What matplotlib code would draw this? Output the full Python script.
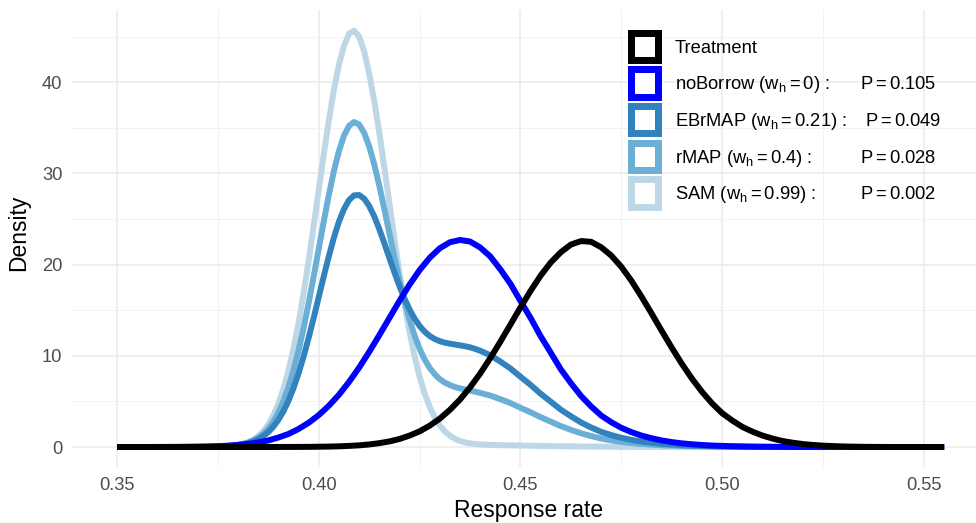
import matplotlib
matplotlib.use("Agg")
import matplotlib.pyplot as plt
from matplotlib.patches import Rectangle

plt.rcParams["font.family"] = ["Liberation Sans", "DejaVu Sans"]
plt.rcParams["mathtext.fontset"] = "custom"
plt.rcParams["mathtext.rm"] = "Liberation Sans"
plt.rcParams["mathtext.it"] = "Liberation Sans:italic"
plt.rcParams["mathtext.bf"] = "Liberation Sans:bold"

# response-rate grid for the two wide curves (Treatment, noBorrow)
x_wide = [0.35, 0.3525, 0.355, 0.3575, 0.36, 0.3625, 0.365, 0.3675, 0.37, 0.3725,
          0.375, 0.3775, 0.38, 0.3825, 0.385, 0.3875, 0.39, 0.3925, 0.395, 0.3975,
          0.40, 0.4025, 0.405, 0.4075, 0.41, 0.4125, 0.415, 0.4175, 0.42, 0.4225,
          0.425, 0.4275, 0.43, 0.4325, 0.435, 0.4375, 0.44, 0.4425, 0.445, 0.4475,
          0.45, 0.4525, 0.455, 0.4575, 0.46, 0.4625, 0.465, 0.4675, 0.47, 0.4725,
          0.475, 0.4775, 0.48, 0.4825, 0.485, 0.4875, 0.49, 0.4925, 0.495, 0.4975,
          0.50, 0.5025, 0.505, 0.5075, 0.51, 0.5125, 0.515, 0.5175, 0.52, 0.5225,
          0.525, 0.5275, 0.53, 0.5325, 0.535, 0.5375, 0.54, 0.5425, 0.545, 0.5475,
          0.55, 0.5525, 0.555]
treatment = [0, 0, 0, 0, 0, 0, 0, 0, 0, 0,
             0, 0, 0, 0.0005, 0.001, 0.002, 0.003, 0.006, 0.01, 0.017,
             0.03, 0.046, 0.075, 0.12, 0.18, 0.28, 0.42, 0.61, 0.88, 1.25,
             1.72, 2.34, 3.11, 4.07, 5.20, 6.54, 8.05, 9.74, 11.54, 13.42,
             15.31, 17.12, 18.8, 20.23, 21.36, 22.2, 22.58, 22.5, 21.9, 20.99,
             19.75, 18.22, 16.48, 14.63, 12.73, 10.88, 9.11, 7.49, 6.04, 4.77,
             3.70, 2.9, 2.2, 1.68, 1.25, 0.92, 0.65, 0.47, 0.32, 0.22,
             0.15, 0.1, 0.06, 0.04, 0.02, 0.012, 0.005, 0.002, 0, 0,
             0, 0, 0]
no_borrow = [0, 0, 0.001, 0.002, 0.004, 0.008, 0.013, 0.022, 0.037, 0.059,
             0.096, 0.147, 0.23, 0.343, 0.51, 0.72, 1.04, 1.43, 1.98, 2.66,
             3.50, 4.52, 5.73, 7.13, 8.70, 10.43, 12.26, 14.14, 16.02, 17.80,
             19.40, 20.75, 21.79, 22.45, 22.70, 22.53, 21.88, 20.9, 19.48, 17.9,
             16.0, 14.15, 12.14, 10.34, 8.51, 7.0, 5.6, 4.45, 3.45, 2.72,
             2.1, 1.63, 1.25, 0.96, 0.72, 0.54, 0.4, 0.3, 0.22, 0.16,
             0.12, 0.085, 0.06, 0.04, 0.03, 0.02, 0.01, 0.005, 0, 0,
             0, 0, 0, 0, 0, 0, 0, 0, 0, 0,
             0, 0, 0]

# finer grid around the narrow peaks (EBrMAP, rMAP, SAM)
x_peak = [0.35, 0.355, 0.36, 0.365, 0.37, 0.3725, 0.375, 0.3775,
          0.38, 0.38125, 0.3825, 0.38375, 0.385, 0.38625, 0.3875, 0.38875,
          0.39, 0.39125, 0.3925, 0.39375, 0.395, 0.39625, 0.3975, 0.39875,
          0.40, 0.40125, 0.4025, 0.40375, 0.405, 0.40625, 0.4075, 0.40875,
          0.41, 0.41125, 0.4125, 0.41375, 0.415, 0.41625, 0.4175, 0.41875,
          0.42, 0.42125, 0.4225, 0.42375, 0.425, 0.42625, 0.4275, 0.42875,
          0.43, 0.43125, 0.4325, 0.43375, 0.435, 0.43625, 0.4375, 0.43875,
          0.44, 0.4425, 0.445, 0.4475, 0.45, 0.4525, 0.455, 0.4575,
          0.46, 0.4625, 0.465, 0.4675, 0.47, 0.4725, 0.475, 0.4775,
          0.48, 0.485, 0.49, 0.495, 0.50, 0.505, 0.51, 0.515,
          0.52, 0.53, 0.54, 0.555]
ebrmap = [0, 0.0005, 0.002, 0.0064, 0.0191, 0.033, 0.061, 0.112,
          0.222, 0.312, 0.439, 0.617, 0.865, 1.198, 1.638, 2.229,
          2.981, 3.924, 5.074, 6.475, 8.088, 9.94, 11.98, 14.17,
          16.45, 18.73, 20.92, 22.95, 24.71, 26.09, 27.07, 27.59,
          27.63, 27.23, 26.43, 25.29, 23.90, 22.35, 20.74, 19.15,
          17.64, 16.27, 15.08, 14.08, 13.27, 12.64, 12.17, 11.84,
          11.60, 11.44, 11.33, 11.24, 11.15, 11.05, 10.93, 10.76,
          10.56, 10.06, 9.37, 8.61, 7.70, 6.81, 5.84, 4.97,
          4.09, 3.37, 2.69, 2.14, 1.66, 1.31, 1.01, 0.78,
          0.60, 0.35, 0.19, 0.11, 0.06, 0.03, 0.014, 0.005,
          0, 0, 0, 0]
rmap = [0, 0.0003, 0.001, 0.0036, 0.0119, 0.0223, 0.046, 0.098,
        0.218, 0.324, 0.478, 0.698, 1.011, 1.438, 2.014, 2.783,
        3.774, 5.024, 6.562, 8.425, 10.585, 13.06, 15.79, 18.71,
        21.74, 24.75, 27.63, 30.25, 32.45, 34.14, 35.21, 35.63,
        35.36, 34.46, 32.96, 30.99, 28.66, 26.09, 23.43, 20.81,
        18.29, 16.01, 13.97, 12.22, 10.77, 9.59, 8.67, 7.97,
        7.44, 7.06, 6.79, 6.58, 6.43, 6.30, 6.19, 6.07,
        5.93, 5.64, 5.25, 4.82, 4.30, 3.81, 3.27, 2.78,
        2.29, 1.88, 1.51, 1.20, 0.93, 0.73, 0.56, 0.44,
        0.34, 0.19, 0.11, 0.06, 0.03, 0.016, 0.008, 0.003,
        0, 0, 0, 0]
sam = [0, 0, 0, 0.0003, 0.003, 0.0093, 0.029, 0.081,
       0.214, 0.339, 0.525, 0.797, 1.188, 1.732, 2.472, 3.459,
       4.743, 6.368, 8.380, 10.808, 13.632, 16.873, 20.44, 24.26,
       28.20, 32.12, 35.81, 39.16, 41.92, 43.96, 45.3, 45.65,
       45.0, 43.4, 40.94, 37.95, 34.47, 30.65, 26.72, 22.83,
       19.10, 15.68, 12.61, 9.95, 7.71, 5.86, 4.39, 3.23,
       2.36, 1.71, 1.23, 0.90, 0.66, 0.507, 0.40, 0.33,
       0.28, 0.23, 0.20, 0.18, 0.16, 0.14, 0.12, 0.10,
       0.085, 0.07, 0.056, 0.045, 0.035, 0.027, 0.021, 0.016,
       0.0125, 0.007, 0.004, 0.002, 0.001, 0.0006, 0.0003, 0,
       0, 0, 0, 0]

# legend content
legend_names = ["Treatment", "noBorrow", "EBrMAP", "rMAP", "SAM"]
legend_weights = [None, "0", "0.21", "0.4", "0.99"]
legend_pvalues = [None, "0.105", "0.049", "0.028", "0.002"]
colors = ["#000000", "#0000FF", "#3182BD", "#6BAED6", "#BDD7E7"]

x_ticks = [0.35, 0.40, 0.45, 0.50, 0.55]
x_tick_labels = ["0.35", "0.40", "0.45", "0.50", "0.55"]
y_ticks = [0, 10, 20, 30, 40]

W, H = 976, 523
fig = plt.figure(figsize=(W / 100, H / 100), dpi=100)
ax = fig.add_axes([72 / W, 1 - 467 / H, (W - 72) / W, (467 - 10) / H])

lw = 4.3
series = [
    (x_peak, sam, colors[4]),
    (x_peak, rmap, colors[3]),
    (x_peak, ebrmap, colors[2]),
    (x_wide, no_borrow, colors[1]),
    (x_wide, treatment, colors[0]),
]
for xs, ys, c in series:
    ax.plot(xs, ys, color=c, linewidth=lw, solid_capstyle="butt", solid_joinstyle="round")

ax.set_xlim(0.35 - 45 / 4035, 0.35 + (W - 117) / 4035)
ax.set_ylim(-20 / 9.12, 437 / 9.12)
ax.set_xticks(x_ticks)
ax.set_xticklabels(x_tick_labels)
ax.set_xticks([0.375, 0.425, 0.475, 0.525], minor=True)
ax.set_yticks(y_ticks)
ax.set_yticks([5, 15, 25, 35, 45], minor=True)
ax.grid(which="major", color="#EBEBEB", linewidth=1.1)
ax.grid(which="minor", color="#F2F2F2", linewidth=0.7)
ax.set_axisbelow(True)
for s in ax.spines.values():
    s.set_visible(False)
ax.tick_params(which="both", length=0, labelsize=13.2, labelcolor="#4D4D4D")
ax.tick_params(axis="y", pad=7)
ax.tick_params(axis="x", pad=7)

fig.text(529 / W, 1 - 511 / H, "Response rate", ha="center", va="center", fontsize=16.5)
fig.text(19 / W, 1 - 233 / H, "Density", ha="center", va="center", rotation=90, fontsize=16.5)

# legend drawn by hand: outlined square keys, white inside
key_left, key_right = 627.3, 661.7
border = 7.0
row0, pitch = 46.3, 36.67
p_x = [None, 860.5, 865.0, 860.5, 860.5]
for i, name in enumerate(legend_names):
    yc = row0 + pitch * i
    x0 = key_left + border / 2
    size = (key_right - key_left) - border
    rect = Rectangle((x0 / W, 1 - (yc + size / 2) / H), size / W, size / H,
                     transform=fig.transFigure, facecolor="white",
                     edgecolor=colors[i], linewidth=border * 0.72, joinstyle="miter")
    fig.add_artist(rect)
    if legend_weights[i] is None:
        label = name
    else:
        label = name + r" $(\mathrm{w_h = " + legend_weights[i] + r"})$ :"
    fig.text(675 / W, 1 - (yc + 6.4) / H, label, ha="left", va="baseline", fontsize=13.2)
    if legend_pvalues[i] is not None:
        fig.text(p_x[i] / W, 1 - (yc + 6.4) / H, r"$\mathrm{P = " + legend_pvalues[i] + "}$",
                 ha="left", va="baseline", fontsize=13.2)

fig.savefig("out.png", dpi=100)
